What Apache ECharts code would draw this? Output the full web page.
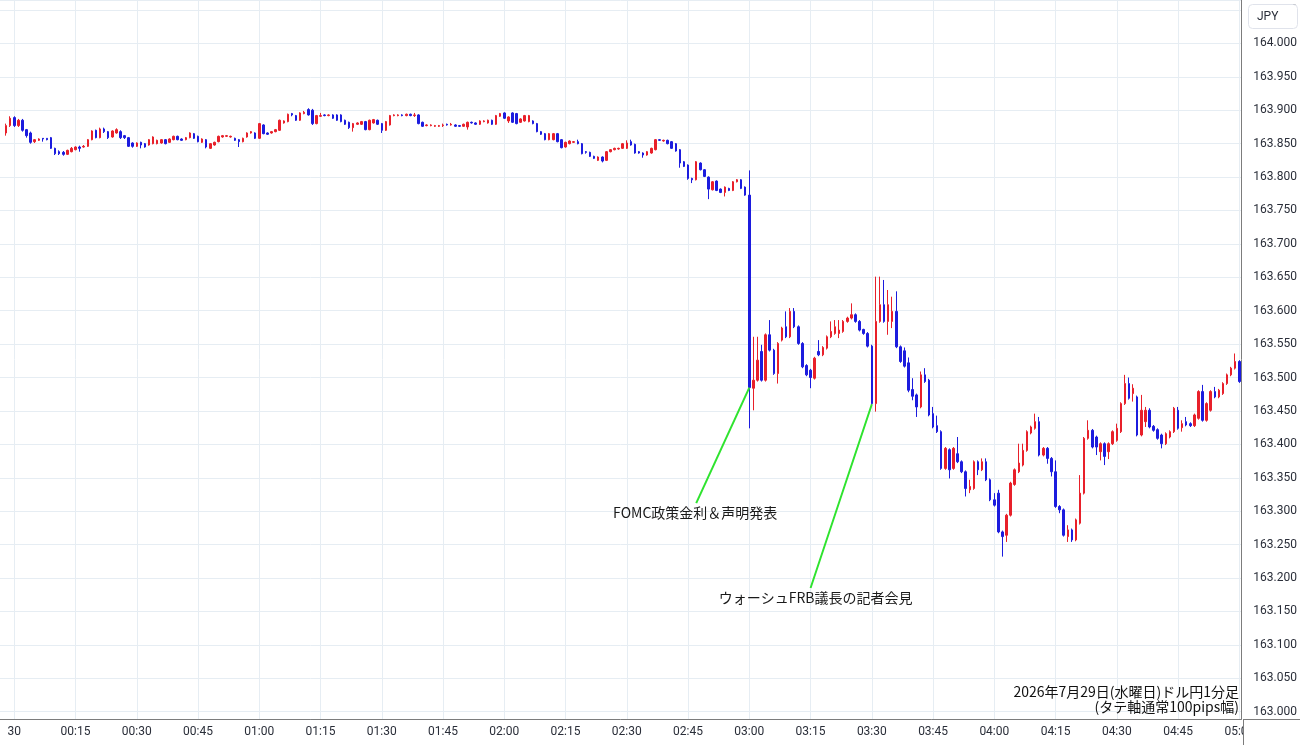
<!DOCTYPE html>
<html>
<head>
<meta charset="utf-8">
<title>ドル円1分足</title>
<script src="https://cdn.jsdelivr.net/npm/echarts@6/dist/echarts.min.js"></script>
<style>
    html, body { margin: 0; padding: 0; background: #fff; }
    #usdjpy { width: 1300px; height: 745px; }
</style>
</head>
<body>
<div id="usdjpy"></div>
<script>
    // 23:57 ～ 05:00 の1分足（23:57は足なし）
    const times = []
    for (let m = -3; m <= 300; m++) {
        const t = (m + 1440) % 1440
        times.push(String(Math.floor(t / 60)).padStart(2, '0') + ':' + String(t % 60).padStart(2, '0'))
    }

    // 23:58 から順に
    const opens = [
        163.866, 163.877, 163.889, 163.877, 163.885, 163.871, 163.866, 163.853, 163.855, 163.858,
        163.858, 163.859, 163.843, 163.838, 163.837, 163.834, 163.838, 163.841, 163.845, 163.845,
        163.846, 163.856, 163.870, 163.859, 163.872, 163.868, 163.860, 163.866, 163.868, 163.862,
        163.859, 163.851, 163.846, 163.852, 163.850, 163.848, 163.850, 163.850, 163.851, 163.856,
        163.852, 163.856, 163.861, 163.857, 163.856, 163.859, 163.865, 163.861, 163.852, 163.856,
        163.843, 163.848, 163.853, 163.860, 163.861, 163.860, 163.858, 163.856, 163.853, 163.860,
        163.866, 163.866, 163.858, 163.878, 163.866, 163.866, 163.868, 163.870, 163.881, 163.883,
        163.895, 163.892, 163.885, 163.895, 163.901, 163.900, 163.880, 163.891, 163.893, 163.892,
        163.893, 163.893, 163.893, 163.885, 163.882, 163.874, 163.879, 163.879, 163.883, 163.871,
        163.881, 163.885, 163.880, 163.870, 163.878, 163.892, 163.892, 163.893, 163.892, 163.894,
        163.892, 163.893, 163.882, 163.877, 163.877, 163.876, 163.876, 163.877, 163.879, 163.878,
        163.878, 163.877, 163.876, 163.875, 163.882, 163.881, 163.879, 163.883, 163.881, 163.885,
        163.879, 163.891, 163.896, 163.884, 163.896, 163.895, 163.882, 163.884, 163.883, 163.884,
        163.880, 163.868, 163.865, 163.856, 163.856, 163.865, 163.856, 163.845, 163.850, 163.852,
        163.853, 163.850, 163.838, 163.837, 163.831, 163.825, 163.830, 163.825, 163.838, 163.841,
        163.842, 163.843, 163.843, 163.853, 163.849, 163.838, 163.836, 163.833, 163.836, 163.841,
        163.856, 163.854, 163.855, 163.853, 163.850, 163.841, 163.823, 163.818, 163.798, 163.796,
        163.821, 163.811, 163.800, 163.781, 163.794, 163.782, 163.777, 163.783, 163.780, 163.793,
        163.796, 163.785, 163.773, 163.484, 163.496, 163.539, 163.496, 163.564, 163.541, 163.506,
        163.556, 163.576, 163.561, 163.599, 163.576, 163.551, 163.518, 163.511, 163.499, 163.539,
        163.534, 163.544, 163.561, 163.566, 163.566, 163.569, 163.584, 163.589, 163.594, 163.584,
        163.572, 163.566, 163.547, 163.461, 163.584, 163.609, 163.584, 163.584, 163.599, 163.546,
        163.540, 163.522, 163.482, 163.474, 163.456, 163.504, 163.496, 163.446, 163.428, 163.419,
        163.364, 163.392, 163.364, 163.386, 163.374, 163.359, 163.332, 163.334, 163.374, 163.362,
        163.374, 163.347, 163.317, 163.327, 163.269, 163.264, 163.294, 163.340, 163.359, 163.369,
        163.391, 163.417, 163.424, 163.434, 163.384, 163.394, 163.379, 163.359, 163.307, 163.302,
        163.262, 163.272, 163.257, 163.282, 163.327, 163.409, 163.421, 163.411, 163.389, 163.401,
        163.389, 163.401, 163.406, 163.419, 163.461, 163.491, 163.476, 163.471, 163.414, 163.434,
        163.451, 163.427, 163.422, 163.414, 163.401, 163.411, 163.419, 163.451, 163.425, 163.434,
        163.431, 163.428, 163.439, 163.479, 163.436, 163.451, 163.479, 163.471, 163.476, 163.491,
        163.504, 163.514, 163.524
    ]
    const closes = [
        163.877, 163.888, 163.877, 163.885, 163.870, 163.862, 163.852, 163.856, 163.857, 163.857,
        163.856, 163.843, 163.835, 163.835, 163.834, 163.840, 163.843, 163.845, 163.843, 163.846,
        163.856, 163.869, 163.859, 163.872, 163.868, 163.859, 163.869, 163.871, 163.859, 163.859,
        163.846, 163.846, 163.851, 163.848, 163.845, 163.856, 163.860, 163.855, 163.856, 163.850,
        163.857, 163.861, 163.856, 163.855, 163.859, 163.866, 163.858, 163.853, 163.857, 163.845,
        163.850, 163.852, 163.861, 163.862, 163.862, 163.861, 163.855, 163.853, 163.858, 163.866,
        163.868, 163.858, 163.880, 163.865, 163.864, 163.868, 163.871, 163.885, 163.884, 163.894,
        163.893, 163.885, 163.896, 163.897, 163.893, 163.880, 163.892, 163.892, 163.892, 163.893,
        163.888, 163.885, 163.883, 163.879, 163.874, 163.880, 163.881, 163.883, 163.871, 163.885,
        163.886, 163.879, 163.870, 163.883, 163.892, 163.893, 163.893, 163.892, 163.894, 163.892,
        163.893, 163.880, 163.876, 163.878, 163.878, 163.877, 163.877, 163.878, 163.878, 163.879,
        163.876, 163.876, 163.879, 163.882, 163.881, 163.879, 163.884, 163.884, 163.885, 163.879,
        163.892, 163.895, 163.888, 163.890, 163.882, 163.880, 163.887, 163.892, 163.892, 163.880,
        163.868, 163.864, 163.856, 163.865, 163.865, 163.853, 163.844, 163.852, 163.854, 163.853,
        163.850, 163.835, 163.837, 163.831, 163.828, 163.830, 163.824, 163.838, 163.841, 163.843,
        163.843, 163.850, 163.851, 163.848, 163.836, 163.836, 163.833, 163.838, 163.843, 163.856,
        163.855, 163.855, 163.850, 163.843, 163.839, 163.821, 163.816, 163.798, 163.796, 163.823,
        163.811, 163.801, 163.782, 163.793, 163.780, 163.777, 163.785, 163.780, 163.793, 163.796,
        163.783, 163.773, 163.485, 163.496, 163.526, 163.496, 163.564, 163.541, 163.506, 163.551,
        163.574, 163.561, 163.599, 163.576, 163.551, 163.516, 163.504, 163.500, 163.529, 163.534,
        163.545, 163.561, 163.569, 163.576, 163.571, 163.584, 163.589, 163.594, 163.584, 163.571,
        163.566, 163.547, 163.461, 163.584, 163.609, 163.584, 163.609, 163.599, 163.546, 163.524,
        163.517, 163.481, 163.472, 163.456, 163.504, 163.494, 163.444, 163.426, 163.419, 163.364,
        163.394, 163.362, 163.394, 163.374, 163.359, 163.334, 163.337, 163.374, 163.362, 163.374,
        163.347, 163.317, 163.309, 163.269, 163.262, 163.294, 163.342, 163.362, 163.372, 163.391,
        163.419, 163.426, 163.434, 163.384, 163.394, 163.379, 163.359, 163.307, 163.302, 163.264,
        163.272, 163.257, 163.287, 163.327, 163.409, 163.421, 163.396, 163.396, 163.401, 163.382,
        163.401, 163.419, 163.424, 163.461, 163.491, 163.469, 163.484, 163.414, 163.451, 163.451,
        163.426, 163.421, 163.409, 163.401, 163.416, 163.419, 163.454, 163.424, 163.431, 163.429,
        163.428, 163.444, 163.479, 163.436, 163.461, 163.479, 163.471, 163.481, 163.491, 163.504,
        163.514, 163.524, 163.494
    ]
    const lows = [
        163.862, 163.875, 163.875, 163.875, 163.868, 163.859, 163.850, 163.851, 163.854, 163.853,
        163.855, 163.842, 163.833, 163.833, 163.832, 163.833, 163.837, 163.840, 163.838, 163.844,
        163.845, 163.855, 163.858, 163.858, 163.866, 163.857, 163.859, 163.865, 163.857, 163.857,
        163.845, 163.844, 163.845, 163.843, 163.844, 163.847, 163.849, 163.849, 163.850, 163.849,
        163.851, 163.855, 163.855, 163.854, 163.855, 163.858, 163.857, 163.852, 163.851, 163.843,
        163.842, 163.847, 163.852, 163.859, 163.860, 163.859, 163.854, 163.845, 163.852, 163.859,
        163.865, 163.857, 163.857, 163.864, 163.863, 163.865, 163.867, 163.869, 163.880, 163.882,
        163.891, 163.884, 163.884, 163.894, 163.892, 163.878, 163.879, 163.890, 163.891, 163.891,
        163.887, 163.884, 163.882, 163.878, 163.872, 163.868, 163.878, 163.878, 163.870, 163.870,
        163.880, 163.878, 163.866, 163.869, 163.877, 163.891, 163.891, 163.891, 163.891, 163.891,
        163.890, 163.879, 163.875, 163.876, 163.876, 163.875, 163.875, 163.875, 163.877, 163.877,
        163.875, 163.875, 163.875, 163.871, 163.880, 163.878, 163.878, 163.882, 163.880, 163.878,
        163.878, 163.890, 163.887, 163.881, 163.881, 163.879, 163.881, 163.883, 163.882, 163.879,
        163.867, 163.863, 163.855, 163.855, 163.855, 163.852, 163.843, 163.844, 163.849, 163.851,
        163.849, 163.834, 163.835, 163.830, 163.827, 163.824, 163.822, 163.824, 163.837, 163.840,
        163.841, 163.842, 163.842, 163.847, 163.835, 163.835, 163.829, 163.832, 163.835, 163.840,
        163.854, 163.853, 163.849, 163.842, 163.838, 163.814, 163.815, 163.796, 163.791, 163.795,
        163.810, 163.800, 163.767, 163.780, 163.779, 163.776, 163.771, 163.779, 163.779, 163.792,
        163.782, 163.772, 163.424, 163.451, 163.494, 163.494, 163.494, 163.539, 163.504, 163.491,
        163.554, 163.559, 163.559, 163.574, 163.549, 163.514, 163.502, 163.484, 163.497, 163.532,
        163.532, 163.542, 163.559, 163.564, 163.559, 163.567, 163.582, 163.587, 163.582, 163.569,
        163.564, 163.545, 163.459, 163.449, 163.582, 163.582, 163.564, 163.574, 163.544, 163.522,
        163.515, 163.478, 163.466, 163.441, 163.454, 163.492, 163.442, 163.424, 163.417, 163.362,
        163.362, 163.349, 163.362, 163.372, 163.357, 163.322, 163.327, 163.332, 163.354, 163.360,
        163.345, 163.315, 163.307, 163.267, 163.232, 163.254, 163.292, 163.338, 163.357, 163.367,
        163.389, 163.415, 163.422, 163.382, 163.382, 163.371, 163.352, 163.305, 163.297, 163.262,
        163.254, 163.254, 163.255, 163.280, 163.325, 163.407, 163.394, 163.384, 163.376, 163.369,
        163.378, 163.399, 163.404, 163.417, 163.459, 163.467, 163.464, 163.412, 163.412, 163.426,
        163.424, 163.419, 163.407, 163.394, 163.399, 163.409, 163.417, 163.422, 163.419, 163.427,
        163.426, 163.426, 163.437, 163.434, 163.434, 163.449, 163.469, 163.469, 163.474, 163.489,
        163.502, 163.512, 163.492
    ]
    const highs = [
        163.880, 163.891, 163.891, 163.887, 163.887, 163.872, 163.868, 163.857, 163.858, 163.858,
        163.858, 163.860, 163.844, 163.840, 163.839, 163.841, 163.845, 163.846, 163.847, 163.848,
        163.857, 163.870, 163.871, 163.874, 163.874, 163.869, 163.870, 163.873, 163.870, 163.863,
        163.860, 163.852, 163.852, 163.853, 163.851, 163.857, 163.861, 163.856, 163.857, 163.857,
        163.858, 163.862, 163.862, 163.858, 163.860, 163.867, 163.866, 163.862, 163.858, 163.857,
        163.851, 163.853, 163.862, 163.863, 163.863, 163.862, 163.859, 163.857, 163.859, 163.867,
        163.869, 163.867, 163.881, 163.879, 163.867, 163.869, 163.872, 163.886, 163.885, 163.895,
        163.896, 163.893, 163.897, 163.899, 163.903, 163.902, 163.893, 163.896, 163.894, 163.894,
        163.894, 163.894, 163.894, 163.886, 163.883, 163.881, 163.882, 163.884, 163.884, 163.886,
        163.887, 163.886, 163.881, 163.884, 163.893, 163.894, 163.894, 163.894, 163.895, 163.895,
        163.896, 163.894, 163.883, 163.879, 163.879, 163.878, 163.878, 163.880, 163.880, 163.881,
        163.879, 163.878, 163.880, 163.883, 163.883, 163.882, 163.885, 163.885, 163.886, 163.886,
        163.893, 163.896, 163.897, 163.891, 163.897, 163.896, 163.888, 163.893, 163.893, 163.885,
        163.881, 163.869, 163.866, 163.866, 163.866, 163.866, 163.857, 163.853, 163.855, 163.854,
        163.856, 163.851, 163.839, 163.838, 163.832, 163.831, 163.831, 163.839, 163.842, 163.844,
        163.844, 163.851, 163.855, 163.856, 163.850, 163.839, 163.837, 163.839, 163.844, 163.857,
        163.857, 163.856, 163.856, 163.854, 163.851, 163.842, 163.824, 163.819, 163.799, 163.824,
        163.822, 163.812, 163.801, 163.794, 163.795, 163.783, 163.786, 163.784, 163.794, 163.797,
        163.797, 163.786, 163.810, 163.561, 163.561, 163.549, 163.566, 163.586, 163.543, 163.553,
        163.576, 163.599, 163.604, 163.604, 163.578, 163.553, 163.520, 163.513, 163.531, 163.556,
        163.547, 163.563, 163.584, 163.586, 163.586, 163.586, 163.591, 163.611, 163.596, 163.586,
        163.573, 163.568, 163.549, 163.651, 163.651, 163.646, 163.631, 163.621, 163.629, 163.548,
        163.545, 163.530, 163.499, 163.476, 163.509, 163.514, 163.498, 163.456, 163.443, 163.421,
        163.396, 163.394, 163.396, 163.411, 163.376, 163.361, 163.347, 163.376, 163.376, 163.379,
        163.379, 163.349, 163.327, 163.332, 163.271, 163.296, 163.344, 163.364, 163.401, 163.401,
        163.421, 163.428, 163.446, 163.441, 163.396, 163.396, 163.381, 163.376, 163.309, 163.304,
        163.279, 163.274, 163.289, 163.354, 163.411, 163.436, 163.423, 163.413, 163.403, 163.403,
        163.403, 163.421, 163.431, 163.463, 163.504, 163.500, 163.490, 163.473, 163.474, 163.456,
        163.454, 163.429, 163.424, 163.416, 163.418, 163.421, 163.456, 163.456, 163.436, 163.441,
        163.433, 163.446, 163.481, 163.489, 163.463, 163.481, 163.486, 163.483, 163.493, 163.506,
        163.516, 163.536, 163.526
    ]

    // 注釈（線の始点＝足、終点＝文字の位置）
    const noteTexts = ['FOMC政策金利＆声明発表', 'ウォーシュFRB議長の記者会見']
    const noteFrom = [['03:00', 163.485], ['03:30', 163.460]]
    const noteTo = [['02:47', 163.312], ['03:15', 163.185]]
    const noteShift = [-1, 5]

    const upColor = '#e8202a'
    const downColor = '#1c1cde'
    const gridColor = '#e6edf3'
    const axisColor = '#7c7c7c'
    const textColor = '#2a2e39'

    const isQuarter = (idx, val) => /:(00|15|30|45)$/.test(val)

    const candles = [['-', '-', '-', '-']].concat(
        opens.map((o, i) => [o, closes[i], lows[i], highs[i]])
    )

    const option = {
        animation: false,
        grid: { left: 0, right: 56, top: 0, bottom: 26 },
        xAxis: {
            type: 'category',
            data: times,
            boundaryGap: true,
            axisLine: { lineStyle: { color: axisColor, width: 1 } },
            axisTick: { show: false, alignWithLabel: true },
            axisLabel: {
                interval: isQuarter,
                margin: 7,
                color: textColor,
                fontSize: 12,
                fontFamily: 'Roboto',
                formatter: v => v === '00:00' ? '30' : v
            },
            splitLine: {
                show: true,
                interval: isQuarter,
                alignWithLabel: true,
                lineStyle: { color: gridColor, width: 1 }
            }
        },
        yAxis: {
            type: 'value',
            position: 'right',
            min: 162.989,
            max: 164.065,
            splitNumber: 21,
            scale: true,
            axisLine: { show: true, lineStyle: { color: axisColor, width: 1 } },
            axisTick: { show: false },
            axisLabel: {
                margin: 12,
                color: textColor,
                fontSize: 12,
                fontFamily: 'Roboto',
                showMinLabel: false,
                showMaxLabel: false,
                formatter: v => Math.abs(v * 20 - Math.round(v * 20)) < 1e-6 ? v.toFixed(3) : ''
            },
            splitLine: { show: true, lineStyle: { color: gridColor, width: 1 } }
        },
        series: [
            {
                type: 'candlestick',
                data: candles,
                barWidth: 2,
                itemStyle: {
                    color: upColor,
                    color0: downColor,
                    borderColor: upColor,
                    borderColor0: downColor,
                    borderWidth: 1
                },
                markLine: {
                    silent: true,
                    symbol: ['none', 'none'],
                    label: { show: false },
                    lineStyle: { color: '#2fe32f', width: 2, type: 'solid' },
                    data: noteFrom.map((f, i) => [{ coord: f }, { coord: noteTo[i] }])
                }
            }
        ]
    }

    const chart = echarts.init(document.getElementById('usdjpy'))
    chart.setOption(option)

    // 注釈テキストは線の終点の下に置く
    const elements = noteTexts.map((t, i) => {
        const p = chart.convertToPixel({ seriesIndex: 0 }, noteTo[i])
        return {
            type: 'text',
            x: p[0] + noteShift[i],
            y: p[1] + 3,
            z: 10,
            style: {
                text: t,
                fill: '#1a1a1a',
                font: '14px "Noto Sans CJK JP"',
                textAlign: 'center',
                textVerticalAlign: 'top'
            }
        }
    })
    elements.push(
        {
            type: 'rect', z: 50,
            shape: { x: 1244, y: 720, width: 56, height: 25 },
            style: { fill: '#fff' }
        },
        {
            type: 'line', z: 51,
            shape: { x1: 1244, y1: 719.5, x2: 1300, y2: 719.5 },
            style: { stroke: axisColor, lineWidth: 1 }
        },
        {
            type: 'line', z: 51,
            shape: { x1: 1243.5, y1: 719, x2: 1243.5, y2: 745 },
            style: { stroke: axisColor, lineWidth: 1 }
        },
        {
            type: 'rect', z: 50,
            shape: { x: 1248.5, y: 4.5, width: 49, height: 24, r: 4 },
            style: { fill: '#fff', stroke: '#e0e3eb', lineWidth: 1 }
        },
        {
            type: 'text', z: 51, x: 1257, y: 17,
            style: { text: 'JPY', fill: textColor, font: '12px Roboto', textVerticalAlign: 'middle' }
        },
        {
            type: 'text', z: 51, x: 1239, y: 684,
            style: {
                text: '2026年7月29日(水曜日)ドル円1分足\n(タテ軸通常100pips幅)',
                fill: '#111',
                font: '14px "Noto Sans CJK JP"',
                lineHeight: 15,
                textAlign: 'right',
                textVerticalAlign: 'top'
            }
        }
    )
    chart.setOption({ graphic: elements })

    window.addEventListener('resize', () => chart.resize())
</script>
</body>
</html>
